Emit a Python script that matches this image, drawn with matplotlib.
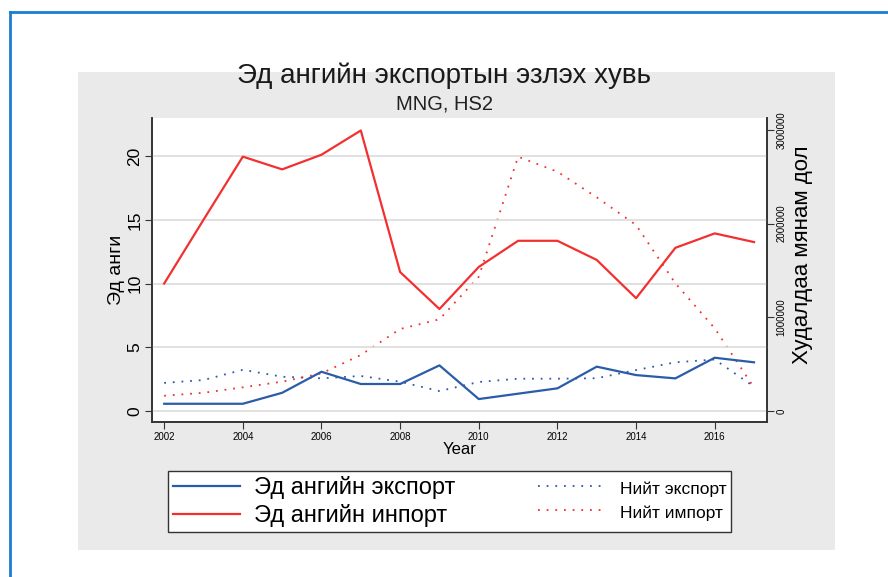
import matplotlib.pyplot as plt
from matplotlib.patches import Rectangle
from matplotlib.lines import Line2D

plt.rcParams['font.family'] = ['Liberation Sans', 'DejaVu Sans']

years = list(range(2002, 2018))

# Эд ангийн экспорт / инпорт (хувь, зүүн тэнхлэг)
part_export = [0.57, 0.57, 0.57, 1.43, 3.08, 2.12, 2.12, 3.58,
               0.94, 1.36, 1.78, 3.48, 2.82, 2.56, 4.18, 3.82]
part_import = [10.0, 15.0, 19.95, 18.95, 20.1, 22.0, 10.9, 8.0,
               11.3, 13.35, 13.35, 11.85, 8.85, 12.8, 13.93, 13.25]

# Нийт экспорт / импорт (мянган доллар, баруун тэнхлэг)
total_export = [300000, 331000, 440000, 366000, 349000, 374000, 313000, 213000,
                310000, 345000, 345000, 350000, 437000, 520000, 550000, 260000]
total_import = [163000, 195000, 253000, 313000, 402000, 598000, 875000, 979000,
                1433000, 2714000, 2554000, 2281000, 1985000, 1363000, 883000, 250000]

left_ticks = [0, 5, 10, 15, 20]
right_ticks = [0, 1000000, 2000000, 3000000]
x_ticks = list(range(2002, 2017, 2))

blue = '#2a5ca8'
red = '#f23030'

fig = plt.figure(figsize=(8.88, 5.77), dpi=100)
fig.patch.set_facecolor('white')

# grey panel and blue frame
fig.patches.append(Rectangle((78 / 888, 1 - 550 / 577), 757 / 888, 478 / 577,
                             transform=fig.transFigure, facecolor='#eaeaea',
                             edgecolor='none', zorder=-10))
fig.lines.append(Line2D([10 / 888, 1], [1 - 12 / 577, 1 - 12 / 577],
                        transform=fig.transFigure, color='#1a7fd0', lw=2))
fig.lines.append(Line2D([10 / 888, 10 / 888], [0, 1 - 12 / 577],
                        transform=fig.transFigure, color='#1a7fd0', lw=2))

ax = fig.add_axes([152 / 888, 1 - 422 / 577, 615 / 888, 304 / 577])
ax2 = ax.twinx()

l1, = ax.plot(years, part_export, color=blue, lw=1.6, zorder=4)
l2, = ax.plot(years, part_import, color=red, lw=1.6, zorder=4)
l3, = ax2.plot(years, total_export, color=blue, lw=1.3, ls=(0, (1, 3.8)))
l4, = ax2.plot(years, total_import, color=red, lw=1.3, ls=(0, (1, 3.8)))

# left axes on top (solid lines, grid), right axes below with the white face
ax.set_zorder(ax2.get_zorder() + 1)
ax.patch.set_visible(False)
ax2.patch.set_visible(True)
ax2.patch.set_facecolor('white')

ax.set_xlim(2001.69, 2017.33)
ax.set_ylim(-0.86, 22.98)
ax2.set_ylim(-117000, 3127000)

ax.set_xticks(x_ticks)
ax.set_xticklabels([str(x) for x in x_ticks], fontsize=7)
ax.set_yticks(left_ticks)
ax.set_yticklabels([str(t) for t in left_ticks], fontsize=12.5, rotation=90, va='center')
ax2.set_yticks(right_ticks)
ax2.set_yticklabels([str(t) for t in right_ticks], fontsize=7, rotation=90, va='center')

for t in left_ticks:
    ax.axhline(t, color='#dcdcdc', lw=1.2, zorder=1)

for a in (ax, ax2):
    a.spines['top'].set_visible(False)
    for s in ('left', 'right', 'bottom'):
        a.spines[s].set_color('#333333')
        a.spines[s].set_linewidth(1.2)
ax.tick_params(axis='both', direction='out', length=5, color='#333333', pad=2)
ax2.tick_params(axis='y', direction='out', length=5, color='#333333', pad=2)

ax.set_xlabel('Year', fontsize=12, labelpad=0)
ax.set_ylabel('Эд анги', fontsize=14, labelpad=2)
ax2.set_ylabel('Худалдаа мянам дол', fontsize=16, labelpad=4, y=0.55)

fig.text(0.5, 1 - 76 / 577, 'Эд ангийн экспортын эзлэх хувь', fontsize=20,
         ha='center', va='center', color='#1a1a1a')
fig.text(0.5, 1 - 104 / 577, 'MNG, HS2', fontsize=14.5, ha='center', va='center',
         color='#222222')

leg = fig.legend([l1, l2, l3, l4],
                 ['Эд ангийн экспорт', 'Эд ангийн инпорт', 'Нийт экспорт', 'Нийт импорт'],
                 ncol=2, loc='upper left',
                 bbox_to_anchor=(168 / 888, 1 - 471 / 577),
                 fancybox=False, edgecolor='#333333', framealpha=1,
                 handlelength=2.84, handletextpad=0.6, borderpad=0.22,
                 borderaxespad=0, columnspacing=3.5,
                 labelspacing=0.2, fontsize=17)
leg.get_frame().set_linewidth(1.0)
for t in leg.get_texts()[2:]:
    t.set_fontsize(12.5)

fig.savefig('out.png', dpi=100)
